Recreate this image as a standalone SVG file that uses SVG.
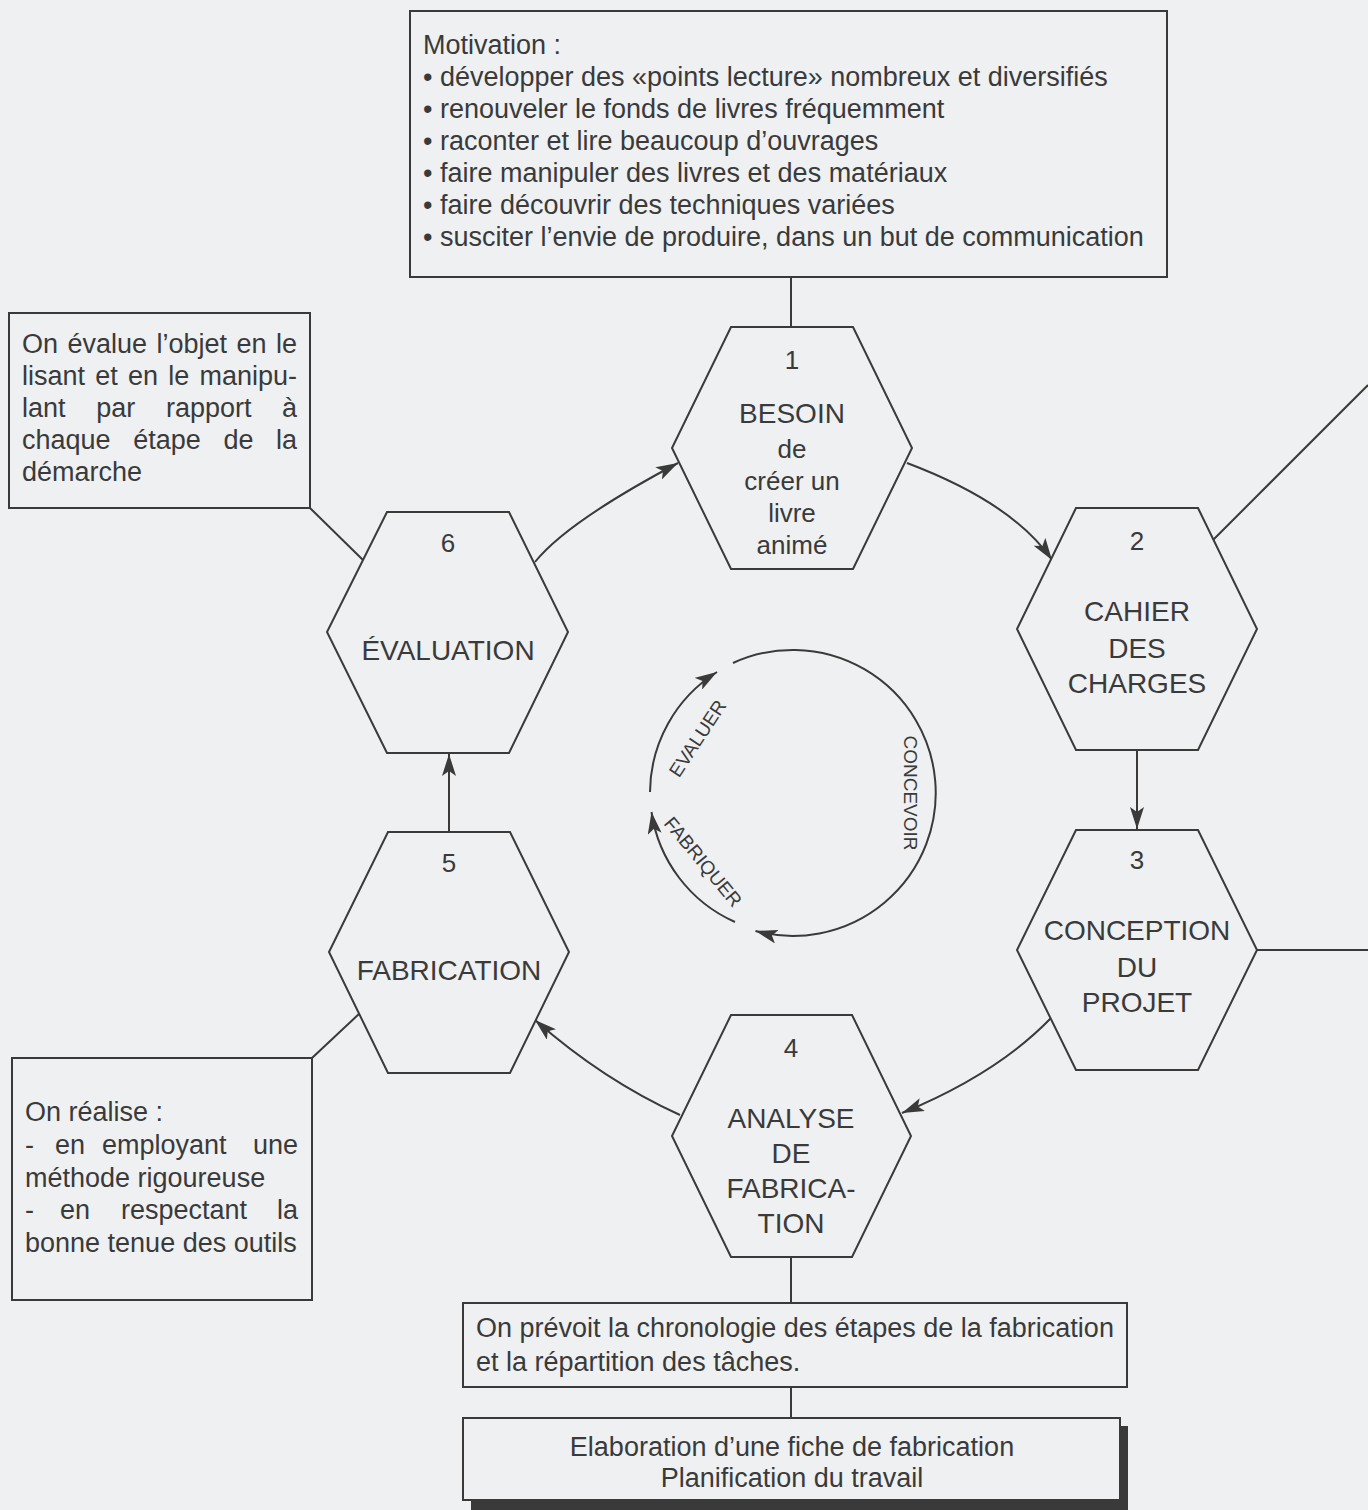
<svg xmlns="http://www.w3.org/2000/svg" width="1368" height="1510" viewBox="0 0 1368 1510">
  <style>
    .box { fill: #eef0f1; stroke: #3a3a3a; stroke-width: 2; }
    .hex { fill: #eef0f1; stroke: #3a3a3a; stroke-width: 2; }
    .ln { fill: none; stroke: #3a3a3a; stroke-width: 2; }
    .t { font-family: "Liberation Sans", Arial, sans-serif; font-size: 27px; fill: #3a3a3a; }
    .h { font-family: "Liberation Sans", Arial, sans-serif; font-size: 28px; fill: #3a3a3a; text-anchor: middle; }
    .hs { font-family: "Liberation Sans", Arial, sans-serif; font-size: 26px; fill: #3a3a3a; text-anchor: middle; }
    .c { font-family: "Liberation Sans", Arial, sans-serif; font-size: 19px; fill: #3a3a3a; text-anchor: middle; }
  </style>
  <defs>
    <marker id="arr" markerUnits="userSpaceOnUse" markerWidth="24" markerHeight="14" refX="22" refY="7" orient="auto">
      <path d="M0,0 L22,7 L0,14 L5,7 z" fill="#3a3a3a"/>
    </marker>
  </defs>
  <rect x="0" y="0" width="1368" height="1510" fill="#eef0f1"/>

  <g id="connectors">
    <line class="ln" x1="791" y1="277" x2="791" y2="327"/>
    <path class="ln" d="M907,463 Q1013,503 1052,560" marker-end="url(#arr)"/>
    <line class="ln" x1="1213" y1="540" x2="1368" y2="385"/>
    <line class="ln" x1="1137" y1="750" x2="1137" y2="829" marker-end="url(#arr)"/>
    <line class="ln" x1="1257" y1="950" x2="1368" y2="950"/>
    <path class="ln" d="M1051,1018 Q997,1074 902,1113" marker-end="url(#arr)"/>
    <path class="ln" d="M680,1115 Q603,1080 535,1020" marker-end="url(#arr)"/>
    <line class="ln" x1="449" y1="832" x2="449" y2="754" marker-end="url(#arr)"/>
    <path class="ln" d="M535,562 Q567,522 678,463" marker-end="url(#arr)"/>
    <line class="ln" x1="310" y1="508" x2="363" y2="560"/>
    <line class="ln" x1="312" y1="1058" x2="360" y2="1013"/>
    <line class="ln" x1="791" y1="1257" x2="791" y2="1303"/>
    <line class="ln" x1="791" y1="1387" x2="791" y2="1418"/>
  </g>

  <g id="motivation">
    <rect class="box" x="410" y="11" width="757" height="266"/>
    <text class="t" x="423" y="54">Motivation :</text>
    <text class="t" x="423" y="86">• développer des «points lecture» nombreux et diversifiés</text>
    <text class="t" x="423" y="118">• renouveler le fonds de livres fréquemment</text>
    <text class="t" x="423" y="150">• raconter et lire beaucoup d’ouvrages</text>
    <text class="t" x="423" y="182">• faire manipuler des livres et des matériaux</text>
    <text class="t" x="423" y="214">• faire découvrir des techniques variées</text>
    <text class="t" x="423" y="246">• susciter l’envie de produire, dans un but de communication</text>
  </g>

  <g id="note-evaluation">
    <rect class="box" x="9" y="313" width="301" height="195"/>
    <text class="t" y="353"><tspan x="22">On</tspan><tspan x="67.5">évalue</tspan><tspan x="156.5">l’objet</tspan><tspan x="236.5">en</tspan><tspan x="276">le</tspan></text>
    <text class="t" y="385"><tspan x="22">lisant</tspan><tspan x="95.3">et</tspan><tspan x="128">en</tspan><tspan x="168.3">le</tspan><tspan x="199.5">manipu-</tspan></text>
    <text class="t" y="417"><tspan x="22">lant</tspan><tspan x="96.2">par</tspan><tspan x="165.9">rapport</tspan><tspan x="282">à</tspan></text>
    <text class="t" y="449"><tspan x="22">chaque</tspan><tspan x="133.2">étape</tspan><tspan x="223.4">de</tspan><tspan x="276">la</tspan></text>
    <text class="t" x="22" y="481">démarche</text>
  </g>

  <g id="note-realisation">
    <rect class="box" x="12" y="1058" width="300" height="242"/>
    <text class="t" x="25" y="1121">On réalise :</text>
    <text class="t" y="1154"><tspan x="25">-</tspan><tspan x="55">en</tspan><tspan x="102">employant</tspan><tspan x="253">une</tspan></text>
    <text class="t" x="25" y="1187">méthode rigoureuse</text>
    <text class="t" y="1219"><tspan x="25">-</tspan><tspan x="60">en</tspan><tspan x="121">respectant</tspan><tspan x="277">la</tspan></text>
    <text class="t" x="25" y="1252">bonne tenue des outils</text>
  </g>

  <g id="hex1">
    <polygon class="hex" points="731,327 853,327 912,448 853,569 731,569 672,448"/>
    <text class="hs" x="792" y="369">1</text>
    <text class="h" x="792" y="423">BESOIN</text>
    <text class="hs" x="792" y="458">de</text>
    <text class="hs" x="792" y="490">créer un</text>
    <text class="hs" x="792" y="522">livre</text>
    <text class="hs" x="792" y="554">animé</text>
  </g>

  <g id="hex2">
    <polygon class="hex" points="1076,508 1198,508 1257,629 1198,750 1076,750 1017,629"/>
    <text class="hs" x="1137" y="550">2</text>
    <text class="h" x="1137" y="621">CAHIER</text>
    <text class="h" x="1137" y="658">DES</text>
    <text class="h" x="1137" y="693">CHARGES</text>
  </g>

  <g id="hex3">
    <polygon class="hex" points="1076,830 1198,830 1257,950 1198,1070 1076,1070 1017,950"/>
    <text class="hs" x="1137" y="869">3</text>
    <text class="h" x="1137" y="940">CONCEPTION</text>
    <text class="h" x="1137" y="977">DU</text>
    <text class="h" x="1137" y="1012">PROJET</text>
  </g>

  <g id="hex4">
    <polygon class="hex" points="731,1015 852,1015 911,1136 852,1257 731,1257 672,1136"/>
    <text class="hs" x="791" y="1057">4</text>
    <text class="h" x="791" y="1128">ANALYSE</text>
    <text class="h" x="791" y="1163">DE</text>
    <text class="h" x="791" y="1198">FABRICA-</text>
    <text class="h" x="791" y="1233">TION</text>
  </g>

  <g id="hex5">
    <polygon class="hex" points="388,832 510,832 569,952 510,1073 388,1073 329,952"/>
    <text class="hs" x="449" y="872">5</text>
    <text class="h" x="449" y="980">FABRICATION</text>
  </g>

  <g id="hex6">
    <polygon class="hex" points="387,512 509,512 568,632 509,753 387,753 327,632"/>
    <text class="hs" x="448" y="552">6</text>
    <text class="h" x="448" y="660">ÉVALUATION</text>
  </g>

  <g id="cycle">
    <path class="ln" d="M733,663 A143,143 0 1 1 755.5,931" marker-end="url(#arr)"/>
    <path class="ln" d="M735,922 A143,143 0 0 1 651.5,812" marker-end="url(#arr)"/>
    <path class="ln" d="M650,792 A143,143 0 0 1 717,672" marker-end="url(#arr)"/>
    <text class="c" transform="translate(904,793) rotate(90)">CONCEVOIR</text>
    <text class="c" transform="translate(703,742) rotate(-56.5)">EVALUER</text>
    <text class="c" transform="translate(698,866) rotate(50.4)">FABRIQUER</text>
  </g>

  <g id="box-chronologie">
    <rect class="box" x="463" y="1303" width="664" height="84"/>
    <text class="t" x="476" y="1337">On prévoit la chronologie des étapes de la fabrication</text>
    <text class="t" x="476" y="1371">et la répartition des tâches.</text>
  </g>

  <g id="box-fiche">
    <rect x="471" y="1426" width="657" height="84" fill="#3a3a3a"/>
    <rect class="box" x="463" y="1418" width="657" height="82"/>
    <text class="t" x="792" y="1456" text-anchor="middle">Elaboration d’une fiche de fabrication</text>
    <text class="t" x="792" y="1487" text-anchor="middle">Planification du travail</text>
  </g>
</svg>
